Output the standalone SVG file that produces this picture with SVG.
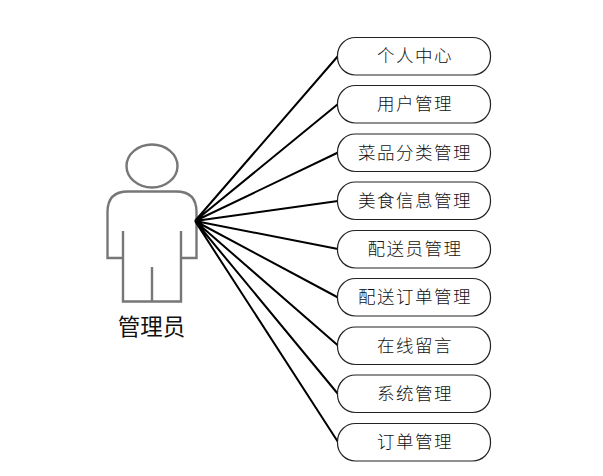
<svg xmlns="http://www.w3.org/2000/svg" width="603" height="476" viewBox="0 0 603 476">
<style>
.b{fill:#fff;stroke:#222;stroke-width:1.2}
.t{font-family:"Noto Sans CJK SC",sans-serif;font-weight:300;font-size:17.5px;letter-spacing:1.5px;text-anchor:middle;fill:#111}
.c{stroke:#000;stroke-width:2;fill:none}
.a{fill:none;stroke:#777;stroke-width:2.4}
</style>
<rect width="603" height="476" fill="#fff"/>
<g id="actor">
<ellipse class="a" cx="152" cy="166" rx="25.5" ry="21.5"/>
<path class="a" d="M123 258H107.500V212Q107.500 191.500 128 191.500H176Q196.500 191.500 196.500 212V258H181M123 231V301.500H181V231M152 267V301.500"/>
<text x="151.500" y="335" style="font-family:'Noto Sans CJK SC',sans-serif;font-size:22.5px;fill:#111;text-anchor:middle">管理员</text>
</g>
<g id="connectors">
<path class="c" d="M195 221L338 56M195 221L338 104M195 221L338 152.500M195 221L338 201M195 221L338 249M195 221L338 297.500M195 221L338 345.500M195 221L338 394M195 221L338 442"/>
</g>
<g id="n1"><rect class="b" x="337.500" y="37.500" width="153" height="37.500" rx="18"/><text class="t" x="415" y="62">个人中心</text></g>
<g id="n2"><rect class="b" x="337.500" y="85.500" width="153" height="37.500" rx="18"/><text class="t" x="415" y="110">用户管理</text></g>
<g id="n3"><rect class="b" x="337.500" y="134" width="153" height="37.500" rx="18"/><text class="t" x="415" y="158.500">菜品分类管理</text></g>
<g id="n4"><rect class="b" x="337.500" y="182" width="153" height="37.500" rx="18"/><text class="t" x="415" y="206.500">美食信息管理</text></g>
<g id="n5"><rect class="b" x="337.500" y="230.500" width="153" height="37.500" rx="18"/><text class="t" x="415" y="255">配送员管理</text></g>
<g id="n6"><rect class="b" x="337.500" y="278.500" width="153" height="37.500" rx="18"/><text class="t" x="415" y="303">配送订单管理</text></g>
<g id="n7"><rect class="b" x="337.500" y="327" width="153" height="37.500" rx="18"/><text class="t" x="415" y="351.500">在线留言</text></g>
<g id="n8"><rect class="b" x="337.500" y="375" width="153" height="37.500" rx="18"/><text class="t" x="415" y="399.500">系统管理</text></g>
<g id="n9"><rect class="b" x="337.500" y="423.500" width="153" height="37.500" rx="18"/><text class="t" x="415" y="448">订单管理</text></g>
</svg>
